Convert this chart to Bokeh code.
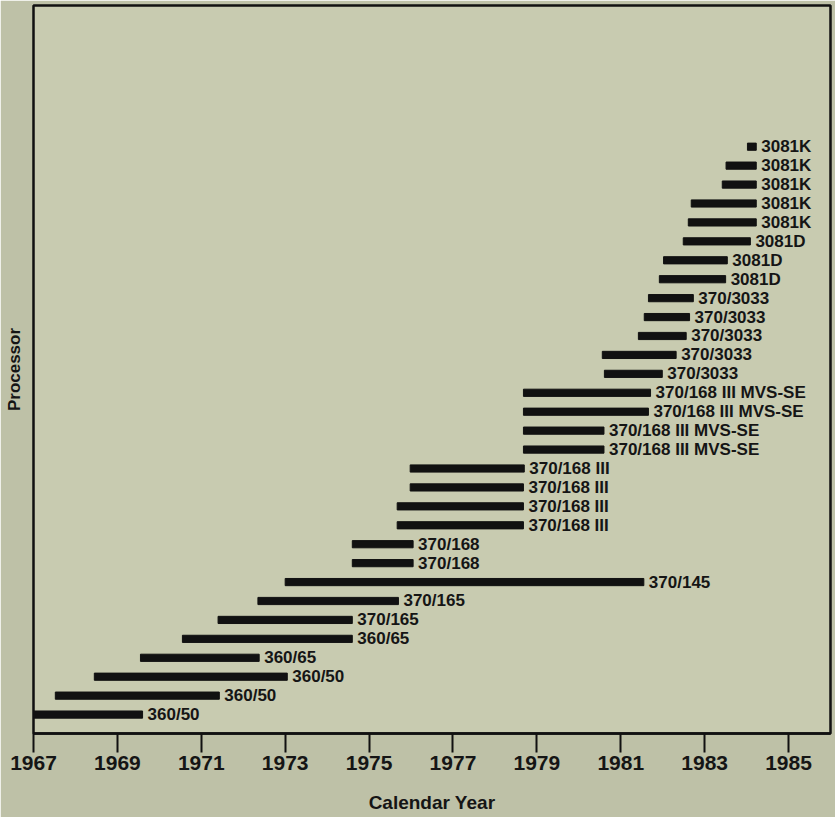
from bokeh.plotting import figure
from bokeh.models import ColumnDataSource, Range1d, FixedTicker
from bokeh.core.properties import value
from bokeh.embed import file_html
from bokeh.resources import INLINE

# Processors listed from the bottom row upward
processors = [
    "360/50", "360/50", "360/50",
    "360/65", "360/65",
    "370/165", "370/165",
    "370/145",
    "370/168", "370/168",
    "370/168 III", "370/168 III", "370/168 III", "370/168 III",
    "370/168 III MVS-SE", "370/168 III MVS-SE", "370/168 III MVS-SE", "370/168 III MVS-SE",
    "370/3033", "370/3033", "370/3033", "370/3033", "370/3033",
    "3081D", "3081D", "3081D",
    "3081K", "3081K", "3081K", "3081K", "3081K",
]
start_year = [
    1967.0, 1967.52, 1968.45,
    1969.55, 1970.55,
    1971.4, 1972.35,
    1973.0,
    1974.6, 1974.6,
    1975.67, 1975.67, 1975.98, 1975.98,
    1978.68, 1978.68, 1978.68, 1978.68,
    1980.61, 1980.56, 1981.42, 1981.56, 1981.66,
    1981.92, 1982.02, 1982.49,
    1982.61, 1982.68, 1983.42, 1983.51, 1984.02,
]
end_year = [
    1969.6, 1971.43, 1973.05,
    1972.38, 1974.6,
    1974.6, 1975.7,
    1981.55,
    1976.05, 1976.05,
    1978.68, 1978.68, 1978.68, 1978.7,
    1980.6, 1980.6, 1981.66, 1981.71,
    1981.99, 1982.32, 1982.56, 1982.64, 1982.73,
    1983.5, 1983.54, 1984.09,
    1984.23, 1984.23, 1984.23, 1984.23, 1984.23,
]
tick_years = [1967, 1969, 1971, 1973, 1975, 1977, 1979, 1981, 1983, 1985]

rows = list(range(len(processors)))
src = ColumnDataSource(dict(y=rows, left=start_year, right=end_year, name=processors))

p = figure(width=835, height=817, output_backend="svg", toolbar_location=None,
           x_range=Range1d(1967, 1986.0), y_range=Range1d(-1.0, 37.46),
           min_border_left=33, min_border_right=5, min_border_top=5, min_border_bottom=84)

p.background_fill_color = "#c8cbb0"
p.border_fill_color = "#bec1a7"
p.outline_line_color = "#111111"
p.outline_line_width = 2.5
p.grid.visible = False

p.hbar(y="y", left="left", right="right", height=0.38, source=src,
       fill_color="#111111", line_color="#111111", line_width=1)
p.text(x="right", y="y", text="name", source=src, x_offset=5,
       text_baseline="middle", text_align="left",
       text_font=value("Liberation Sans"), text_font_style="bold",
       text_font_size="17px", text_color="#151515")

xa = p.xaxis[0]
xa.ticker = FixedTicker(ticks=tick_years)
xa.axis_line_color = "#111111"
xa.axis_line_width = 2.5
xa.major_tick_line_color = "#111111"
xa.major_tick_line_width = 2
xa.major_tick_out = 19
xa.major_tick_in = 0
xa.minor_tick_line_color = None
xa.major_label_standoff = 3
xa.major_label_text_font = "Liberation Sans"
xa.major_label_text_font_style = "bold"
xa.major_label_text_font_size = "21px"
xa.major_label_text_color = "#151515"
xa.axis_label = "Calendar Year"
xa.axis_label_standoff = 19
xa.axis_label_text_font = "Liberation Sans"
xa.axis_label_text_font_style = "bold"
xa.axis_label_text_font_size = "19px"
xa.axis_label_text_color = "#151515"

ya = p.yaxis[0]
ya.ticker = FixedTicker(ticks=[])
ya.axis_line_color = None
ya.major_tick_line_color = None
ya.minor_tick_line_color = None
ya.major_label_text_font_size = "0px"
ya.axis_label = "Processor"
ya.axis_label_standoff = 10
ya.axis_label_text_font = "Liberation Sans"
ya.axis_label_text_font_style = "bold"
ya.axis_label_text_font_size = "17px"
ya.axis_label_text_color = "#151515"

open("out.html", "w").write(file_html(p, INLINE))
